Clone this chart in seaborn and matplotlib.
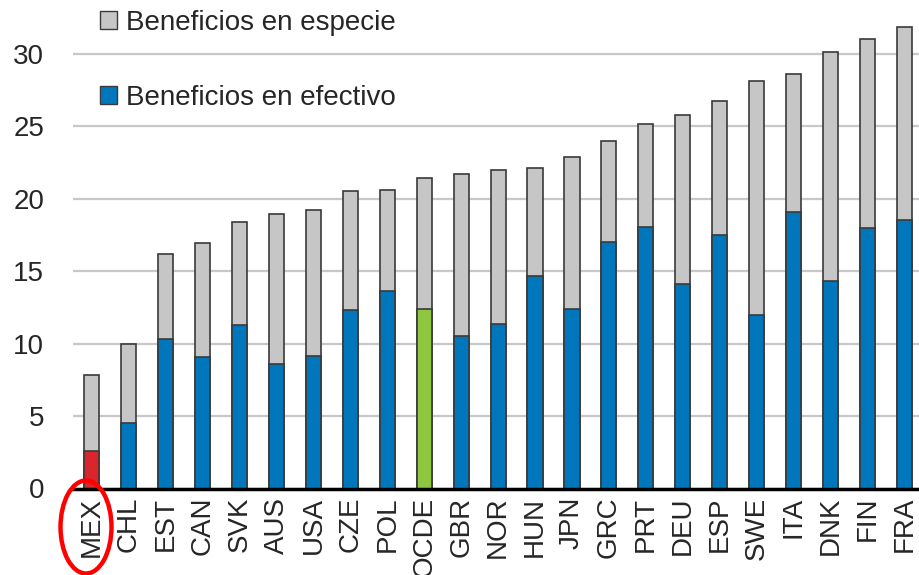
import matplotlib
matplotlib.use("Agg")
import matplotlib.pyplot as plt
from matplotlib.patches import Patch, Ellipse
import seaborn as sns
import numpy as np
import pandas as pd

# Prestaciones familiares por país (% del gasto), ordenadas por total
paises = ["MEX", "CHL", "EST", "CAN", "SVK", "AUS", "USA", "CZE", "POL", "OCDE",
          "GBR", "NOR", "HUN", "JPN", "GRC", "PRT", "DEU", "ESP", "SWE", "ITA",
          "DNK", "FIN", "FRA"]
efectivo = [2.6, 4.55, 10.3, 9.1, 11.3, 8.6, 9.15, 12.3, 13.6, 12.35,
            10.5, 11.35, 14.65, 12.4, 17.0, 18.05, 14.1, 17.45, 12.0, 19.05,
            14.3, 17.95, 18.5]
especie = [5.25, 5.45, 5.9, 7.8, 7.05, 10.35, 10.05, 8.2, 7.0, 9.05,
           11.2, 10.65, 7.45, 10.45, 6.95, 7.1, 11.65, 9.3, 16.1, 9.55,
           15.8, 13.05, 13.35]
y_ticks = [0, 5, 10, 15, 20, 25, 30]

GRIS = "#C6C6C6"
AZUL = "#0077BD"
ROJO = "#D9252B"
VERDE = "#8DC63F"
BORDE = "#3A3A3A"

colores_efectivo = [ROJO if p == "MEX" else VERDE if p == "OCDE" else AZUL for p in paises]

df = pd.DataFrame({"pais": paises, "efectivo": efectivo, "especie": especie})
df["total"] = df["efectivo"] + df["especie"]

sns.set_style("white")
plt.rcParams["font.family"] = ["Liberation Sans", "DejaVu Sans"]

fig = plt.figure(figsize=(9.2, 5.75), dpi=100)
ax = fig.add_axes([73.3 / 920, 86.5 / 575, 849.6 / 920, 488.5 / 575])

ancho = 0.41
sns.barplot(data=df, x="pais", y="total", color=GRIS, width=ancho,
            edgecolor=BORDE, linewidth=1.2, saturation=1, ax=ax, zorder=2)
sns.barplot(data=df, x="pais", y="efectivo", hue="pais", palette=colores_efectivo,
            width=ancho, edgecolor=BORDE, linewidth=1.2, saturation=1,
            legend=False, ax=ax, zorder=3)

ax.set_xlim(-0.5, len(paises) - 0.5)
ax.set_ylim(0, 33.69)
ax.set_xlabel("")
ax.set_ylabel("")

ax.set_yticks(y_ticks)
ax.set_yticklabels([str(t) for t in y_ticks], fontsize=20)
ax.tick_params(axis="y", length=0, pad=21)
ax.yaxis.grid(True, color="#C8C8C8", linewidth=1.6)
ax.set_axisbelow(True)

ax.set_xticks(range(len(paises)))
ax.set_xticklabels(paises, rotation=90, fontsize=20)
ax.tick_params(axis="x", which="major", length=0, pad=6)
ax.set_xticks(np.arange(-0.5, len(paises), 1.0), minor=True)
ax.tick_params(axis="x", which="minor", direction="in", length=6, width=1.6,
               color="black")

for lado in ["left", "right", "top"]:
    ax.spines[lado].set_visible(False)
ax.spines["bottom"].set_color("black")
ax.spines["bottom"].set_linewidth(2.5)
ax.spines["bottom"].set_zorder(5)

manijas = [Patch(facecolor=GRIS, edgecolor=BORDE, linewidth=1.0, label="Beneficios en especie"),
           Patch(facecolor=AZUL, edgecolor=BORDE, linewidth=1.0, label="Beneficios en efectivo")]
fig.legend(handles=manijas, loc="upper left", bbox_to_anchor=(100 / 920, 1 - 10 / 575),
           frameon=False, fontsize=20, borderpad=0, borderaxespad=0,
           handlelength=0.62, handleheight=0.62, handletextpad=0.3,
           labelspacing=1.75)

# Círculo rojo que resalta a México
fig.add_artist(Ellipse((86 / 920, 1 - 527 / 575), 51 / 920, 93 / 575,
                       transform=fig.transFigure, fill=False,
                       edgecolor="#FF0000", linewidth=3.2, zorder=10))

fig.savefig("out.png", dpi=100)
